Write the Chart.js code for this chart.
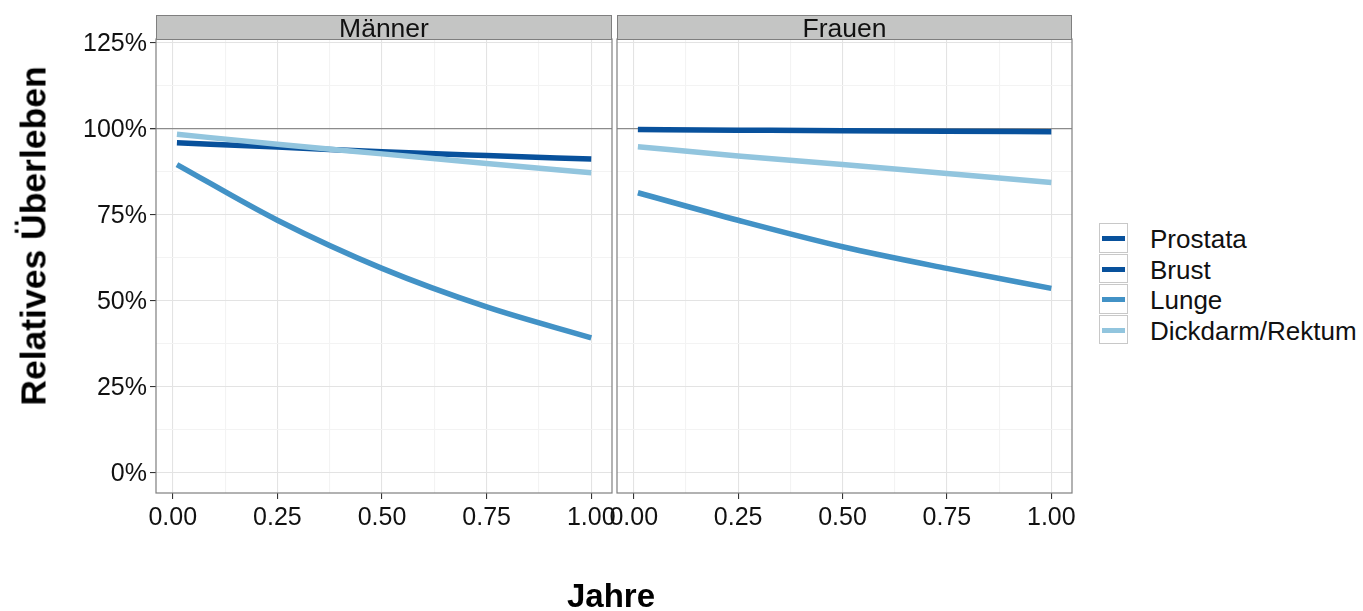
<!DOCTYPE html>
<html>
<head>
<meta charset="utf-8">
<script src="https://cdn.jsdelivr.net/npm/chart.js@4/dist/chart.umd.min.js"></script>
<style>
  body { margin: 0; background: #fff; font-family: "Liberation Sans", Arial, sans-serif; }
  #wrap { position: relative; width: 1363px; height: 611px; overflow: hidden; }
  canvas { position: absolute; top: 0; }
  .strip { position: absolute; top: 15px; height: 23px; background: #c4c5c4; border: 1px solid #7f7f7f;
           text-align: center; font-size: 26.5px; line-height: 25px; color: #111; box-sizing: content-box; }
  .ytitle { position: absolute; left: 34px; top: 236px; transform: translate(-50%, -50%) rotate(-90deg);
            font-weight: bold; font-size: 35.5px; white-space: nowrap; color: #000; }
  .xtitle { position: absolute; left: 611px; top: 596px; transform: translate(-50%, -50%);
            font-weight: bold; font-size: 33px; color: #000; }
  .legend { position: absolute; left: 1099px; top: 223px; }
  .row { position: relative; height: 30.5px; }
  .key { position: absolute; left: 0; top: 0; width: 29px; height: 29.5px; border: 1px solid #c8c8c8; box-sizing: border-box; background: #fff; }
  .key span { position: absolute; left: 2px; right: 2px; top: 12px; height: 5px; }
  .lab { position: absolute; left: 51px; top: 1px; line-height: 30px; font-size: 26px; white-space: nowrap; color: #111; }
</style>
</head>
<body>
<div id="wrap">
  <canvas id="maenner" width="625" height="611" style="left:0"></canvas>
  <canvas id="frauen" width="492" height="611" style="left:590px"></canvas>
  <div class="strip" style="left:156px; width:454px;">Männer</div>
  <div class="strip" style="left:617px; width:453px;">Frauen</div>
  <div class="ytitle">Relatives Überleben</div>
  <div class="xtitle">Jahre</div>
  <div class="legend" id="legend"></div>
</div>
<script>
'use strict';

// Jahre seit Diagnose
const years = [0.01, 0.25, 0.5, 0.75, 1.0];

// relatives Überleben in %
const maennerProstata = [95.8, 94.6, 93.2, 92.1, 91.1];
const maennerLunge = [89.5, 73.3, 59.3, 48.1, 39.1];
const maennerDickdarm = [98.3, 95.4, 92.6, 89.8, 87.1];

const frauenBrust = [99.7, 99.5, 99.3, 99.2, 99.0];
const frauenLunge = [81.3, 73.3, 65.6, 59.3, 53.5];
const frauenDickdarm = [94.7, 92.0, 89.5, 86.9, 84.3];

const xTicks = [0, 0.125, 0.25, 0.375, 0.5, 0.625, 0.75, 0.875, 1];
const yTicks = [0, 12.5, 25, 37.5, 50, 62.5, 75, 87.5, 100, 112.5, 125];

const cancerTypes = ['Prostata', 'Brust', 'Lunge', 'Dickdarm/Rektum'];
const colors = {
  'Prostata': '#08519c',
  'Brust': '#08519c',
  'Lunge': '#4292c6',
  'Dickdarm/Rektum': '#92c5de',
};

const font = '"Liberation Sans", Arial, sans-serif';

function toPoints(values) {
  return values.map((v, i) => ({ x: years[i], y: v }));
}

function lineSet(name, values, order) {
  return {
    label: name,
    data: toPoints(values),
    borderColor: colors[name],
    borderWidth: 5.5,
    pointRadius: 0,
    fill: false,
    cubicInterpolationMode: 'monotone',
    order: order,
  };
}

const panelBorder = {
  id: 'panelBorder',
  afterDraw(chart) {
    const { ctx, chartArea: a } = chart;
    ctx.save();
    ctx.strokeStyle = '#7f7f7f';
    ctx.lineWidth = 1.2;
    ctx.strokeRect(a.left, a.top, a.right - a.left, a.bottom - a.top);
    ctx.restore();
  },
};

function isMajor(v, step) {
  return Math.abs(v / step - Math.round(v / step)) < 1e-6;
}

function renderPanel(canvasElem, datasets, withYLabels, padLeft, padRight) {
  return new Chart(canvasElem, {
    type: 'line',
    data: { datasets: datasets },
    plugins: [panelBorder],
    options: {
      responsive: false,
      animation: false,
      devicePixelRatio: 1,
      layout: { padding: { top: 39, left: padLeft, right: padRight, bottom: 0 } },
      plugins: { legend: { display: false }, tooltip: { enabled: false } },
      scales: {
        x: {
          type: 'linear',
          min: -0.04,
          max: 1.0495,
          afterBuildTicks: (s) => { s.ticks = xTicks.map(v => ({ value: v })); },
          afterFit: (s) => { s.height = 611 - 493; },
          border: { display: false },
          grid: {
            color: (c) => isMajor(c.tick.value, 0.25) ? '#e3e3e3' : '#f3f3f3',
            tickColor: (c) => isMajor(c.tick.value, 0.25) ? '#333' : 'rgba(0,0,0,0)',
            tickLength: 6,
            lineWidth: 1.1,
          },
          ticks: {
            autoSkip: false,
            maxRotation: 0,
            padding: 4,
            color: '#111',
            font: { family: font, size: 25 },
            callback: (v) => isMajor(v, 0.25) ? v.toFixed(2) : '',
          },
        },
        y: {
          type: 'linear',
          min: -6,
          max: 126,
          afterBuildTicks: (s) => { s.ticks = yTicks.map(v => ({ value: v })); },
          afterFit: (s) => { s.width = withYLabels ? 156 : 0; },
          border: { display: false },
          grid: {
            color: (c) => c.tick.value === 100 ? '#8c8c8c'
              : (isMajor(c.tick.value, 25) ? '#e3e3e3' : '#f3f3f3'),
            lineWidth: (c) => c.tick.value === 100 ? 1.3 : 1.1,
            tickColor: (c) => isMajor(c.tick.value, 25) ? '#333' : 'rgba(0,0,0,0)',
            drawTicks: withYLabels,
            tickLength: 6,
          },
          ticks: {
            display: withYLabels,
            autoSkip: false,
            padding: 3,
            labelOffset: 2,
            color: '#111',
            font: { family: font, size: 25 },
            callback: (v) => isMajor(v, 25) ? v + '%' : '',
          },
        },
      },
    },
  });
}

renderPanel(document.getElementById('maenner'), [
  lineSet('Prostata', maennerProstata, 2),
  lineSet('Lunge', maennerLunge, 1),
  lineSet('Dickdarm/Rektum', maennerDickdarm, 0),
], true, 0, 625 - 612);

renderPanel(document.getElementById('frauen'), [
  lineSet('Brust', frauenBrust, 2),
  lineSet('Lunge', frauenLunge, 1),
  lineSet('Dickdarm/Rektum', frauenDickdarm, 0),
], false, 617 - 590, 1082 - 1072);

// legend
const legendElem = document.getElementById('legend');
for (let i = 0; i < cancerTypes.length; i++) {
  const row = document.createElement('div');
  row.className = 'row';
  row.innerHTML = '<div class="key"><span style="background:' + colors[cancerTypes[i]] + '"></span></div>' +
    '<div class="lab">' + cancerTypes[i] + '</div>';
  legendElem.appendChild(row);
}
</script>
</body>
</html>
